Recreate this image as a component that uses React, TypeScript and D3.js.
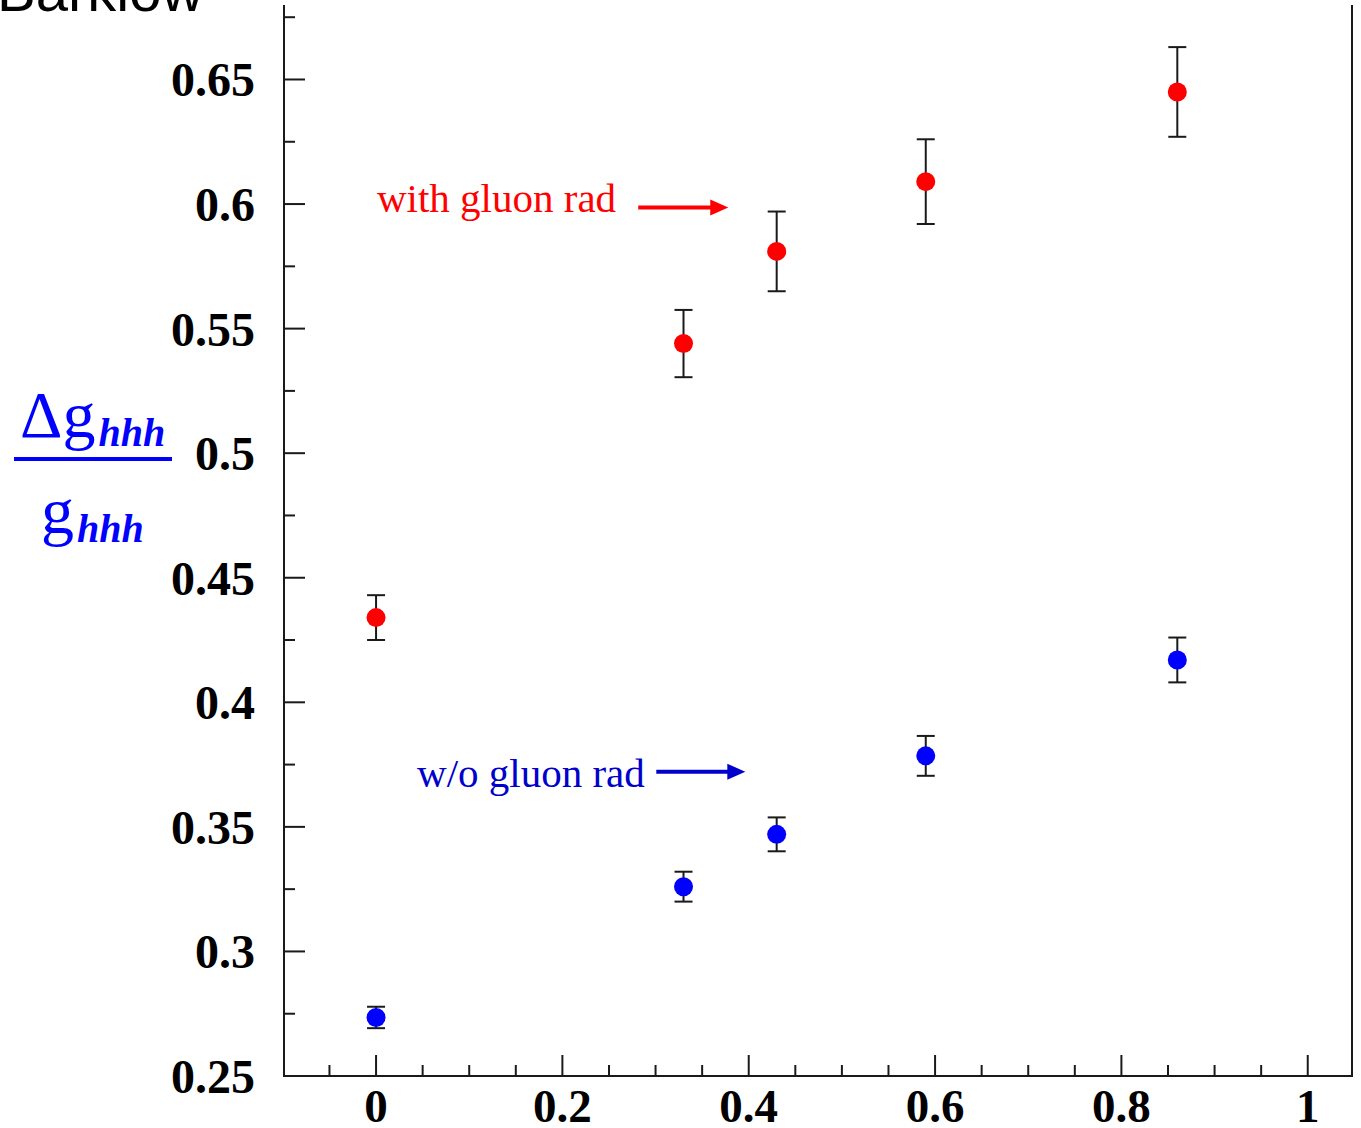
import React, { useEffect, useRef } from 'react';
import * as d3 from 'd3';

// fraction of final-state sample (x) vs relative precision on g_hhh
const xValues = [0, 0.33, 0.43, 0.59, 0.86];
const withGluon = [0.434, 0.544, 0.581, 0.609, 0.645];
const withGluonErr = [0.009, 0.0135, 0.016, 0.017, 0.018];
const withoutGluon = [0.2735, 0.326, 0.347, 0.3785, 0.417];
const withoutGluonErr = [0.0043, 0.006, 0.0068, 0.008, 0.009];

const xTicks = [0, 0.2, 0.4, 0.6, 0.8, 1];
const yTicks = [0.25, 0.3, 0.35, 0.4, 0.45, 0.5, 0.55, 0.6, 0.65];

function App() {
  const ref = useRef<SVGSVGElement>(null);

  useEffect(() => {
    drawChart();
  });

  function drawChart() {
    const width = 1361, height = 1128;
    const margin = { top: 5, right: 9, bottom: 52, left: 284 };

    const svg = d3.select(ref.current);
    svg.selectAll('*').remove();

    const xScale = d3.scaleLinear()
      .domain([-0.0988, 1.0475])
      .range([margin.left, width - margin.right]);

    const yScale = d3.scaleLinear()
      .domain([0.25, 0.6799])
      .range([height - margin.bottom, margin.top]);

    const axisColor = '#1a1a1a';
    const y0 = yScale(0.25);

    // frame: left axis, bottom axis, right edge
    svg.append('path')
      .attr('d', `M${xScale.range()[0]},${yScale.range()[1]} V${y0} H${xScale.range()[1]} V${yScale.range()[1]}`)
      .attr('fill', 'none')
      .attr('stroke', axisColor)
      .attr('stroke-width', 2);

    // x ticks (major 0.2, minor 0.05)
    const xMinor = d3.range(-0.05, 1.0001, 0.05);
    svg.append('g')
      .selectAll('line')
      .data(xMinor)
      .enter()
      .append('line')
        .attr('x1', d => xScale(d))
        .attr('x2', d => xScale(d))
        .attr('y1', y0)
        .attr('y2', d => y0 - (Math.abs(Math.round(d / 0.2) * 0.2 - d) < 1e-6 ? 21 : 11))
        .attr('stroke', axisColor)
        .attr('stroke-width', 2);

    // y ticks (major 0.05, minor 0.025)
    const yMinor = d3.range(0.25, 0.6801, 0.025);
    const x0 = xScale.range()[0];
    svg.append('g')
      .selectAll('line')
      .data(yMinor)
      .enter()
      .append('line')
        .attr('x1', x0)
        .attr('x2', d => x0 + (Math.abs(Math.round(d / 0.05) * 0.05 - d) < 1e-6 ? 21 : 11))
        .attr('y1', d => yScale(d))
        .attr('y2', d => yScale(d))
        .attr('stroke', axisColor)
        .attr('stroke-width', 2);

    const labelFont = '"Liberation Serif", "Times New Roman", serif';

    svg.append('g')
      .selectAll('text')
      .data(xTicks)
      .enter()
      .append('text')
        .attr('x', d => xScale(d))
        .attr('y', y0 + 46)
        .attr('text-anchor', 'middle')
        .style('font-family', labelFont)
        .style('font-weight', 'bold')
        .style('font-size', '47px')
        .text(d => String(d));

    svg.append('g')
      .selectAll('text')
      .data(yTicks)
      .enter()
      .append('text')
        .attr('x', 255)
        .attr('y', d => yScale(d) + 17)
        .attr('text-anchor', 'end')
        .style('font-family', labelFont)
        .style('font-weight', 'bold')
        .style('font-size', '48px')
        .text(d => String(d));

    // points with error bars
    function drawSeries(vals: number[], errs: number[], color: string) {
      const g = svg.append('g');
      const rows = vals.map((v, i) => ({ x: xValues[i], y: v, e: errs[i] }));
      const item = g.selectAll('g').data(rows).enter().append('g');
      item.append('line')
        .attr('x1', d => xScale(d.x))
        .attr('x2', d => xScale(d.x))
        .attr('y1', d => yScale(d.y - d.e))
        .attr('y2', d => yScale(d.y + d.e))
        .attr('stroke', axisColor)
        .attr('stroke-width', 2);
      [-1, 1].forEach(s => {
        item.append('line')
          .attr('x1', d => xScale(d.x) - 9)
          .attr('x2', d => xScale(d.x) + 9)
          .attr('y1', d => yScale(d.y + s * d.e))
          .attr('y2', d => yScale(d.y + s * d.e))
          .attr('stroke', axisColor)
          .attr('stroke-width', 2);
      });
      item.append('circle')
        .attr('cx', d => xScale(d.x))
        .attr('cy', d => yScale(d.y))
        .attr('r', 9.5)
        .attr('fill', color);
    }
    drawSeries(withGluon, withGluonErr, '#ff0000');
    drawSeries(withoutGluon, withoutGluonErr, '#0000ff');

    // annotations with arrows
    function annotate(label: string, color: string, tx: number, ty: number, ax1: number, ax2: number, ay: number) {
      svg.append('text')
        .attr('x', xScale(tx))
        .attr('y', yScale(ty))
        .style('font-family', labelFont)
        .style('font-size', '41px')
        .attr('fill', color)
        .text(label);
      const xa = xScale(ax1), xb = xScale(ax2), ya = yScale(ay);
      svg.append('line')
        .attr('x1', xa).attr('x2', xb - 16)
        .attr('y1', ya).attr('y2', ya)
        .attr('stroke', color)
        .attr('stroke-width', 4);
      svg.append('path')
        .attr('d', `M${xb - 18},${ya - 8} L${xb},${ya} L${xb - 18},${ya + 8} Z`)
        .attr('fill', color);
    }
    annotate('with gluon rad', '#ff0000', 0.001, 0.597, 0.2814, 0.378, 0.5986);
    annotate('w/o gluon rad', '#0000cc', 0.044, 0.366, 0.3008, 0.3963, 0.3721);

    // y-axis title: Δg_hhh / g_hhh
    const title = svg.append('g').attr('fill', '#0000ff');
    const num = title.append('text')
      .attr('x', 20)
      .attr('y', 437)
      .style('font-family', labelFont)
      .style('font-size', '66px');
    num.append('tspan').text('Δg');
    num.append('tspan')
      .attr('dx', 3)
      .attr('dy', 9)
      .style('font-size', '40px')
      .style('font-style', 'italic')
      .style('font-weight', 'bold')
      .text('hhh');
    title.append('rect')
      .attr('x', 14)
      .attr('y', 457)
      .attr('width', 158)
      .attr('height', 4);
    const den = title.append('text')
      .attr('x', 41)
      .attr('y', 533)
      .style('font-family', labelFont)
      .style('font-size', '66px');
    den.append('tspan').text('g');
    den.append('tspan')
      .attr('dx', 3)
      .attr('dy', 9)
      .style('font-size', '40px')
      .style('font-style', 'italic')
      .style('font-weight', 'bold')
      .text('hhh');

    // author stamp at top-left (cropped in the original)
    svg.append('text')
      .attr('x', -3)
      .attr('y', 11)
      .style('font-family', '"Liberation Sans", Arial, sans-serif')
      .style('font-size', '58px')
      .attr('fill', '#000')
      .text('Barklow');
  }

  return (
    <svg
      ref={ref}
      width={1361}
      height={1128}
      style={{ position: 'absolute', left: 0, top: 0, background: 'white' }}
    />
  );
}

export default App;
